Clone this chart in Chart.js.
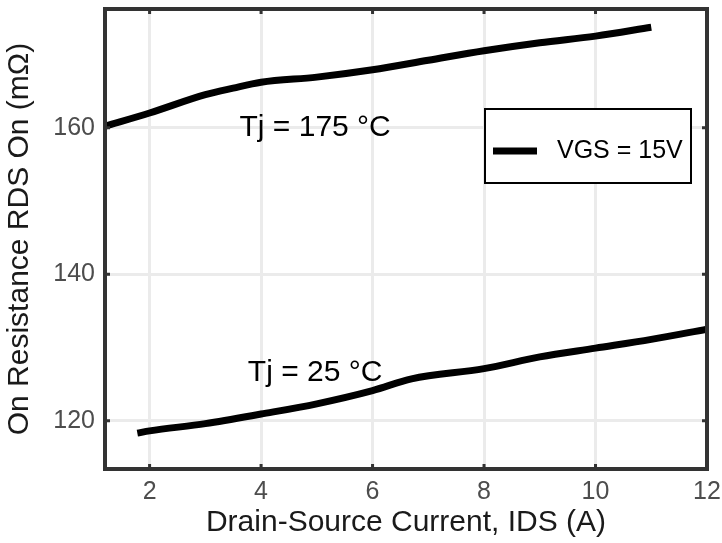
<!DOCTYPE html>
<html>
<head>
<meta charset="utf-8">
<script src="https://cdn.jsdelivr.net/npm/chart.js@4/dist/chart.umd.min.js"></script>
<style>
  html, body { margin: 0; padding: 0; background: #fff; }
  #wrap { width: 722px; height: 543px; }
</style>
</head>
<body>
<div id="wrap"><canvas id="rdsChart"></canvas></div>
<script>
// values
const ids175 = [1.2, 2, 3, 3.5, 4, 5, 6, 7, 8, 9, 10, 11];
const rds175 = [160.2, 162.0, 164.5, 165.4, 166.2, 166.9, 167.9, 169.2, 170.5, 171.6, 172.5, 173.7];

const ids25 = [1.78, 2, 3, 4, 5, 6, 6.7, 8, 9, 10, 11, 12];
const rds25 = [118.3, 118.6, 119.6, 120.9, 122.3, 124.1, 125.7, 127.1, 128.7, 129.9, 131.1, 132.5];

const xTicks = [2, 4, 6, 8, 10, 12];
const yTicks = [120, 140, 160];

const curveLabels = [
  { text: "Tj = 175 °C", x: 4.97, y: 160.0 },
  { text: "Tj = 25 °C", x: 4.97, y: 126.6 },
];
const legendText = "VGS = 15V";

const FONT = "'Liberation Sans', Arial, sans-serif";

const toPoints = (xs, ys) => xs.map((x, i) => ({ x, y: ys[i] }));

// frame, inward tick notches, curve labels and the legend box
const decorations = {
  id: "decorations",
  afterDatasetsDraw(chart) {
    const { ctx, chartArea: a, scales } = chart;
    ctx.save();

    ctx.fillStyle = "#000";
    ctx.font = "30px " + FONT;
    ctx.textAlign = "center";
    ctx.textBaseline = "middle";
    curveLabels.forEach((l) => {
      ctx.fillText(l.text, scales.x.getPixelForValue(l.x), scales.y.getPixelForValue(l.y));
    });

    // legend
    ctx.fillStyle = "#fff";
    ctx.fillRect(485, 109, 206, 74);
    ctx.strokeStyle = "#000";
    ctx.lineWidth = 2;
    ctx.strokeRect(485, 109, 206, 74);
    ctx.lineWidth = 7;
    ctx.beginPath();
    ctx.moveTo(493, 151);
    ctx.lineTo(537, 151);
    ctx.stroke();
    ctx.fillStyle = "#000";
    ctx.font = "25px " + FONT;
    ctx.textAlign = "left";
    ctx.fillText(legendText, 557, 151);

    // frame
    ctx.strokeStyle = "#333";
    ctx.lineWidth = 4;
    ctx.strokeRect(a.left, a.top, a.right - a.left, a.bottom - a.top);

    ctx.lineWidth = 3;
    ctx.beginPath();
    xTicks.forEach((v) => {
      const px = scales.x.getPixelForValue(v);
      ctx.moveTo(px, a.top);
      ctx.lineTo(px, a.top + 5);
      ctx.moveTo(px, a.bottom);
      ctx.lineTo(px, a.bottom - 5);
    });
    yTicks.forEach((v) => {
      const py = scales.y.getPixelForValue(v);
      ctx.moveTo(a.left, py);
      ctx.lineTo(a.left + 5, py);
      ctx.moveTo(a.right, py);
      ctx.lineTo(a.right - 5, py);
    });
    ctx.stroke();

    ctx.restore();
  },
};

new Chart(document.getElementById("rdsChart"), {
  type: "line",
  data: {
    datasets: [
      {
        label: "Tj = 175 °C",
        data: toPoints(ids175, rds175),
        borderColor: "#000",
        borderWidth: 7,
        pointRadius: 0,
        cubicInterpolationMode: "monotone",
      },
      {
        label: "Tj = 25 °C",
        data: toPoints(ids25, rds25),
        borderColor: "#000",
        borderWidth: 7,
        pointRadius: 0,
        cubicInterpolationMode: "monotone",
      },
    ],
  },
  options: {
    responsive: true,
    maintainAspectRatio: false,
    animation: false,
    layout: { padding: { top: 9, right: 15, left: 0, bottom: 0 } },
    plugins: {
      legend: { display: false },
      tooltip: { enabled: false },
    },
    scales: {
      x: {
        type: "linear",
        min: 1.2,
        max: 12,
        afterBuildTicks: (s) => { s.ticks = xTicks.map((v) => ({ value: v })); },
        afterFit: (s) => {
          s.height = 74;
          s.paddingLeft = 0;
          s.paddingRight = 0;
        },
        grid: { color: "#ebebeb", lineWidth: 3, drawTicks: false },
        border: { display: false },
        ticks: { color: "#4d4d4d", font: { size: 25, family: FONT }, padding: 8, maxRotation: 0 },
        title: {
          display: true,
          text: "Drain-Source Current, IDS (A)",
          color: "#1a1a1a",
          font: { size: 30, family: FONT },
          padding: { top: 0, bottom: 2 },
        },
      },
      y: {
        min: 113.4,
        max: 176.2,
        afterBuildTicks: (s) => { s.ticks = yTicks.map((v) => ({ value: v })); },
        afterFit: (s) => {
          s.width = 105;
          s.paddingTop = 0;
          s.paddingBottom = 0;
        },
        grid: { color: "#ebebeb", lineWidth: 3, drawTicks: false },
        border: { display: false },
        ticks: { color: "#4d4d4d", font: { size: 25, family: FONT }, padding: 10 },
        title: {
          display: true,
          text: "On Resistance RDS On (mΩ)",
          color: "#1a1a1a",
          font: { size: 30, family: FONT },
          padding: { top: 2, bottom: 0 },
        },
      },
    },
  },
  plugins: [decorations],
});
</script>
</body>
</html>
